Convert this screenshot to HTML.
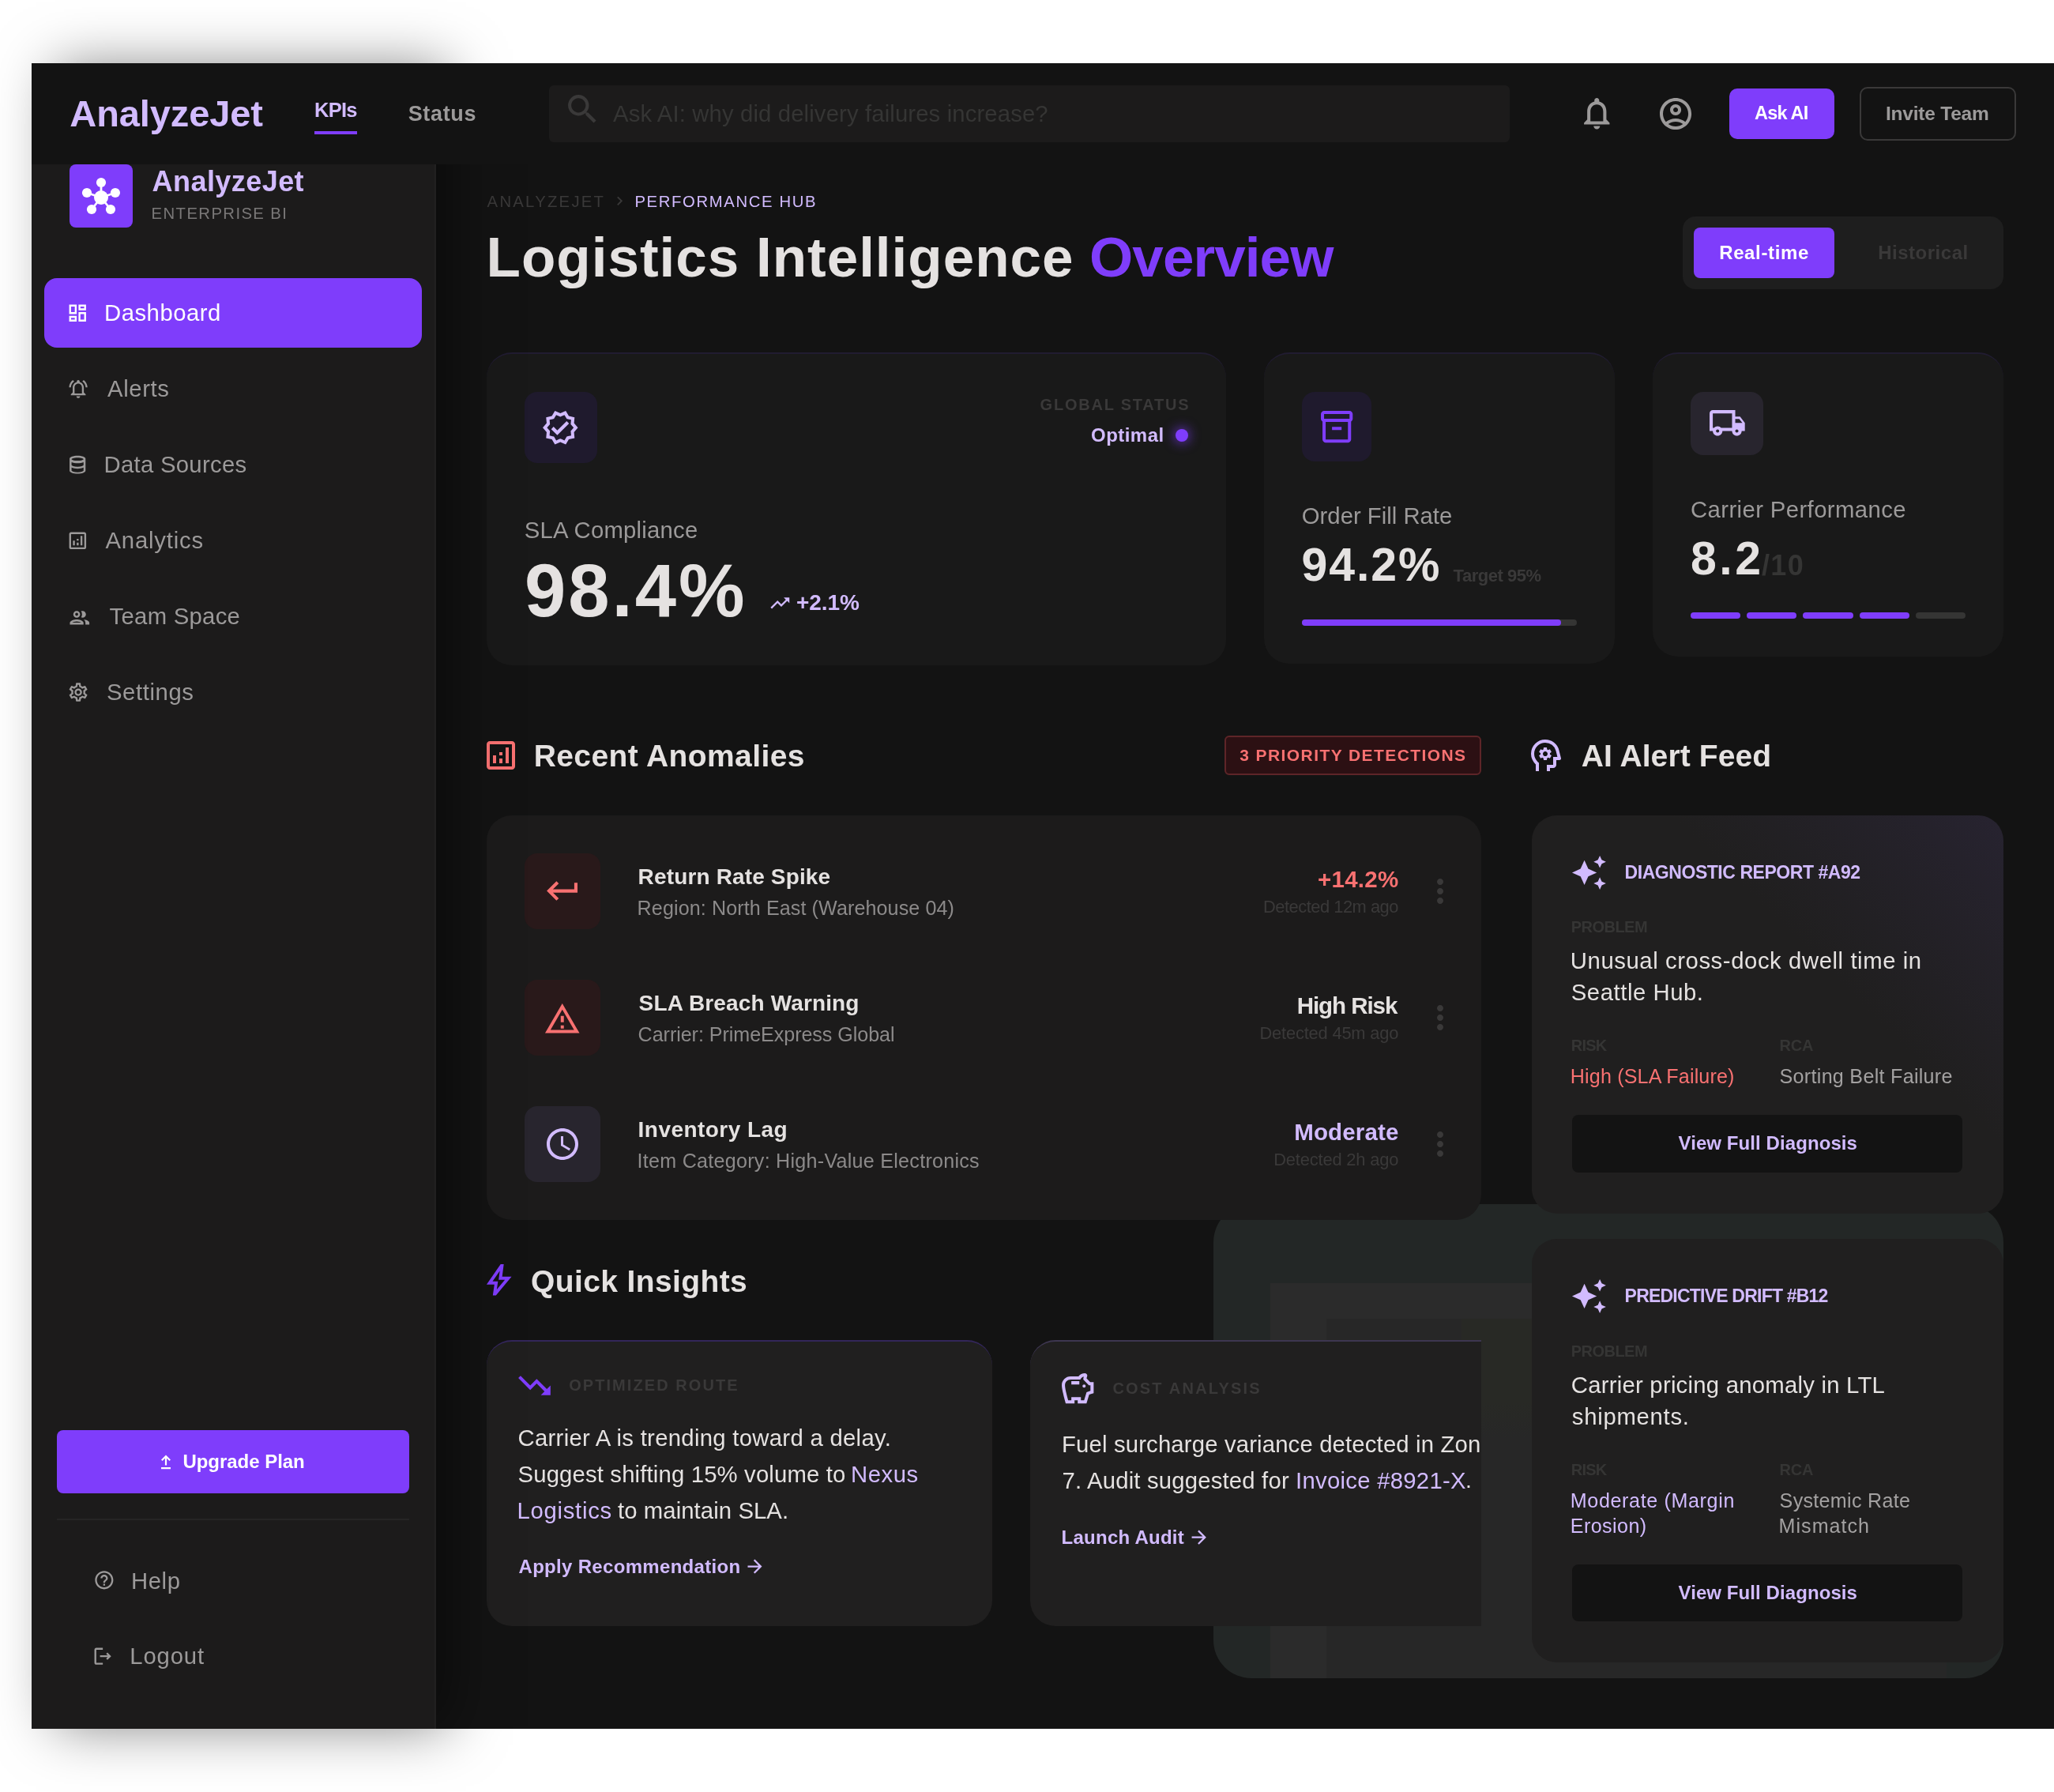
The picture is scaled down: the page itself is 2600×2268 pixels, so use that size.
<!DOCTYPE html><html><head><meta charset="utf-8"><title>AnalyzeJet</title><style>html,body{margin:0;padding:0;background:#fff}body{width:2600px;height:2268px;position:relative;overflow:hidden;font-family:"Liberation Sans",sans-serif}div,span,svg{position:absolute;display:block}span{white-space:nowrap}</style></head><body><div id="w" style="left:0;top:0;width:2600px;height:2268px;will-change:transform">
<div style="left:40px;top:80px;width:2560px;height:2108px;background:#131313;border-radius:0px;"></div>
<div style="left:1536px;top:1524px;width:1000px;height:600px;background:#232726;border-radius:48px;overflow:hidden"><div style="left:72px;top:100px;width:856px;height:500px;background:#2b2b2b"></div><div style="left:143px;top:145px;width:785px;height:455px;background:#272727"></div><div style="left:314px;top:145px;width:614px;height:150px;background:linear-gradient(#282925 70%,#272727)"></div></div>
<span style="left:616.60px;top:244.81px;font-size:20.3px;line-height:20.3px;font-weight:400;color:#3a3939;letter-spacing:2.268px;">ANALYZEJET</span>
<svg style="left:772.68px;top:243.16px" width="22.69" height="22.69" viewBox="0 0 24 24"><path fill="#3a3939" d="M10 6L8.590 7.410 13.170 12l-4.580 4.590L10 18l6-6z"/></svg>
<span style="left:803.40px;top:244.81px;font-size:20.3px;line-height:20.3px;font-weight:400;color:#d2bbff;letter-spacing:1.637px;">PERFORMANCE HUB</span>
<span style="left:615.60px;top:289.88px;font-size:71px;line-height:71px;font-weight:700;color:#e5e2e1;letter-spacing:0.995px;">Logistics Intelligence</span>
<span style="left:1379.00px;top:289.88px;font-size:71px;line-height:71px;font-weight:700;color:#7f3dfb;letter-spacing:-0.904px;">Overview</span>
<div style="left:2130px;top:274px;width:406px;height:92px;background:#1e1e1e;border-radius:16px;"></div>
<div style="left:2144px;top:288px;width:178px;height:64px;background:#7f3dfb;border-radius:8px;"></div>
<span style="left:2176.20px;top:307.58px;font-size:24px;line-height:24px;font-weight:700;color:#ffffff;letter-spacing:0.627px;">Real-time</span>
<span style="left:2377.20px;top:307.58px;font-size:24px;line-height:24px;font-weight:700;color:#3a3939;letter-spacing:0.511px;">Historical</span>
<div style="left:616px;top:446px;width:936px;height:396px;background:#191919;border-radius:32px;border-top:2px solid #211c31;box-sizing:border-box;"></div>
<div style="left:1600px;top:446px;width:444px;height:394px;background:#191919;border-radius:32px;border-top:2px solid #211c31;box-sizing:border-box;"></div>
<div style="left:2092px;top:446px;width:444px;height:385px;background:#191919;border-radius:32px;border-top:2px solid #211c31;box-sizing:border-box;"></div>
<div style="left:664px;top:496px;width:92px;height:90px;background:#1f1a2d;border-radius:16px;"></div>
<svg style="left:685.46px;top:516.96px" width="48.58" height="48.58" viewBox="0 0 24 24"><path fill="#d2bbff" d="M23 11.99l-2.44-2.79.34-3.69-3.61-.82-1.89-3.2L12 2.96 8.6 1.5 6.71 4.69 3.1 5.5l.34 3.7L1 11.99l2.44 2.79-.34 3.7 3.61.82L8.6 22.5l3.4-1.47 3.4 1.46 1.89-3.19 3.61-.82-.34-3.69 2.44-2.8zm-3.95 1.48l-.56.65.08.85.18 1.95-1.9.43-.84.19-.44.74-.99 1.68-1.78-.77-.8-.34-.79.34-1.78.77-.99-1.67-.44-.74-.84-.19-1.9-.43.18-1.96.08-.85-.56-.65-1.29-1.47 1.29-1.48.56-.65-.09-.86-.18-1.94 1.9-.43.84-.19.44-.74.99-1.68 1.78.77.8.34.79-.34 1.78-.77.99 1.68.44.74.84.19 1.9.43-.18 1.95-.08.85.56.65 1.29 1.47-1.28 1.48zM10.09 13.75l-2.32-2.33-1.48 1.49 3.8 3.81 7.34-7.36-1.48-1.49z"/></svg>
<span style="left:1316.60px;top:501.87px;font-size:20px;line-height:20px;font-weight:700;color:#3a3939;letter-spacing:1.777px;">GLOBAL STATUS</span>
<span style="left:1381.00px;top:539.38px;font-size:24px;line-height:24px;font-weight:700;color:#d2bbff;letter-spacing:0.471px;">Optimal</span>
<div style="left:1488px;top:543px;width:16px;height:16px;border-radius:50%;background:#7f3dfb;box-shadow:0 0 16px #7f3dfb"></div>
<span style="left:663.80px;top:655.89px;font-size:29.3px;line-height:29.3px;font-weight:400;color:#9c9a9a;letter-spacing:0.222px;">SLA Compliance</span>
<span style="left:664.00px;top:700.71px;font-size:94px;line-height:94px;font-weight:700;color:#e5e2e1;letter-spacing:3.012px;">98.4%</span>
<svg style="left:972.89px;top:748.74px" width="28.62" height="28.62" viewBox="0 0 24 24"><path fill="#d2bbff" d="M16 6l2.29 2.29-4.88 4.88-4-4L2 16.59 3.41 18l6-6 4 4 6.3-6.29L22 12V6z"/></svg>
<span style="left:1008.00px;top:749.09px;font-size:28px;line-height:28px;font-weight:700;color:#d2bbff;letter-spacing:-0.069px;">+2.1%</span>
<div style="left:1648px;top:496px;width:88px;height:88px;background:#1f1a2d;border-radius:16px;"></div>
<svg style="left:1667.85px;top:515.60px" width="48.30" height="48.30" viewBox="0 0 24 24"><path fill="#7f3dfb" d="M20 2H4c-1 0-2 .9-2 2v3.010c0 .720.430 1.340 1 1.690V20c0 1.100 1.100 2 2 2h14c.900 0 2-.900 2-2V8.700c.570-.350 1-.970 1-1.690V4c0-1.100-1-2-2-2zm-1 18H5V9h14v11zm1-13H4V4h16v3zM9 12h6v2H9z"/></svg>
<span style="left:1647.80px;top:637.89px;font-size:29.3px;line-height:29.3px;font-weight:400;color:#9c9a9a;letter-spacing:0.001px;">Order Fill Rate</span>
<span style="left:1647.50px;top:686.34px;font-size:59px;line-height:59px;font-weight:700;color:#e5e2e1;letter-spacing:1.917px;">94.2%</span>
<span style="left:1839.60px;top:718.37px;font-size:22px;line-height:22px;font-weight:700;color:#3a3939;letter-spacing:-0.487px;">Target 95%</span>
<div style="left:1648px;top:784px;width:348px;height:8px;background:#353534;border-radius:4px;"></div>
<div style="left:1648px;top:784px;width:328px;height:8px;background:#7f3dfb;border-radius:4px;"></div>
<div style="left:2140px;top:496px;width:92px;height:80px;background:#28252e;border-radius:16px;"></div>
<svg style="left:2161.83px;top:511.48px" width="48.74" height="48.74" viewBox="0 0 24 24"><path fill="#d2bbff" d="M20 8h-3V4H3c-1.100 0-2 .900-2 2v11h2c0 1.660 1.340 3 3 3s3-1.340 3-3h6c0 1.660 1.340 3 3 3s3-1.340 3-3h2v-5l-3-4zm-.500 1.500l1.960 2.500H17V9.500h2.500zM6 18c-.550 0-1-.450-1-1s.450-1 1-1 1 .450 1 1-.450 1-1 1zm2.220-3c-.550-.610-1.330-1-2.220-1s-1.670.390-2.220 1H3V6h12v9H8.220zM18 18c-.550 0-1-.450-1-1s.450-1 1-1 1 .450 1 1-.450 1-1 1z"/></svg>
<span style="left:2140.00px;top:629.69px;font-size:29.3px;line-height:29.3px;font-weight:400;color:#9c9a9a;letter-spacing:0.396px;">Carrier Performance</span>
<span style="left:2140.00px;top:677.84px;font-size:59px;line-height:59px;font-weight:700;color:#e5e2e1;letter-spacing:3.497px;">8.2</span>
<span style="left:2230.00px;top:697.92px;font-size:36px;line-height:36px;font-weight:700;color:#353534;letter-spacing:1.338px;">/10</span>
<div style="left:2140.0px;top:775px;width:63.19999999999982px;height:8px;background:#7f3dfb;border-radius:4px;"></div>
<div style="left:2211.2px;top:775px;width:63.20000000000027px;height:8px;background:#7f3dfb;border-radius:4px;"></div>
<div style="left:2282.4px;top:775px;width:63.19999999999982px;height:8px;background:#7f3dfb;border-radius:4px;"></div>
<div style="left:2353.6px;top:775px;width:63.20000000000027px;height:8px;background:#7f3dfb;border-radius:4px;"></div>
<div style="left:2424.8px;top:775px;width:63.19999999999982px;height:8px;background:#353534;border-radius:4px;"></div>
<svg style="left:610.00px;top:932.00px" width="48.00" height="48.00" viewBox="0 0 24 24"><path fill="#f87171" d="M19 3H5c-1.1 0-2 .9-2 2v14c0 1.1.9 2 2 2h14c1.1 0 2-.9 2-2V5c0-1.1-.9-2-2-2zm0 16H5V5h14v14zM7 12h2v5H7zm8-5h2v10h-2zm-4 7h2v3h-2zm0-4h2v2h-2z"/></svg>
<span style="left:675.70px;top:936.88px;font-size:39px;line-height:39px;font-weight:700;color:#e5e2e1;letter-spacing:0.405px;">Recent Anomalies</span>
<div style="left:1550px;top:931px;width:325px;height:50px;background:#2c1013;border:2px solid #5e2528;border-radius:6px;box-sizing:border-box"></div>
<span style="left:1569.20px;top:945.22px;font-size:21px;line-height:21px;font-weight:700;color:#f87171;letter-spacing:1.422px;">3 PRIORITY DETECTIONS</span>
<div style="left:616px;top:1032px;width:1259px;height:512px;background:#1c1b1b;border-radius:32px;"></div>
<div style="left:664px;top:1080px;width:96px;height:96px;background:#29191a;border-radius:16px;"></div>
<svg style="left:687.87px;top:1102.90px" width="49.16" height="49.16" viewBox="0 0 24 24"><path fill="#f87171" d="M19 7v4H5.830l3.580-3.590L8 6l-6 6 6 6 1.410-1.410L5.830 13H21V7z"/></svg>
<span style="left:807.60px;top:1096.29px;font-size:28px;line-height:28px;font-weight:700;color:#e5e2e1;letter-spacing:0.150px;">Return Rate Spike</span>
<span style="left:806.60px;top:1136.75px;font-size:25.1px;line-height:25.1px;font-weight:400;color:#8c8a8a;letter-spacing:0.106px;">Region: North East (Warehouse 04)</span>
<span style="left:1668.00px;top:1098.32px;font-size:29.5px;line-height:29.5px;font-weight:700;color:#f87171;letter-spacing:0.271px;">+14.2%</span>
<span style="left:1598.90px;top:1136.76px;font-size:21.9px;line-height:21.9px;font-weight:400;color:#3a3939;letter-spacing:-0.488px;">Detected 12m ago</span>
<svg style="left:1799.00px;top:1104.00px" width="48" height="48" viewBox="0 0 24 24"><path fill="#3a3939" d="M12 8c1.100 0 2-.900 2-2s-.900-2-2-2-2 .900-2 2 .900 2 2 2zm0 2c-1.100 0-2 .900-2 2s.900 2 2 2 2-.900 2-2-.900-2-2-2zm0 6c-1.100 0-2 .900-2 2s.900 2 2 2 2-.900 2-2-.900-2-2-2z"/></svg>
<div style="left:664px;top:1240px;width:96px;height:96px;background:#29191a;border-radius:16px;"></div>
<svg style="left:688.39px;top:1265.78px" width="47.52" height="47.52" viewBox="0 0 24 24"><path fill="#f87171" d="M12 5.990L19.530 19H4.470L12 5.990M12 2L1 21h22L12 2zm1 14h-2v2h2v-2zm0-6h-2v4h2v-4z"/></svg>
<span style="left:808.60px;top:1256.29px;font-size:28px;line-height:28px;font-weight:700;color:#e5e2e1;letter-spacing:0.145px;">SLA Breach Warning</span>
<span style="left:807.60px;top:1296.75px;font-size:25.1px;line-height:25.1px;font-weight:400;color:#8c8a8a;letter-spacing:-0.049px;">Carrier: PrimeExpress Global</span>
<span style="left:1641.70px;top:1258.32px;font-size:29.5px;line-height:29.5px;font-weight:700;color:#e5e2e1;letter-spacing:-1.043px;">High Risk</span>
<span style="left:1594.40px;top:1296.76px;font-size:21.9px;line-height:21.9px;font-weight:400;color:#3a3939;letter-spacing:-0.188px;">Detected 45m ago</span>
<svg style="left:1799.00px;top:1264.00px" width="48" height="48" viewBox="0 0 24 24"><path fill="#3a3939" d="M12 8c1.100 0 2-.900 2-2s-.900-2-2-2-2 .900-2 2 .900 2 2 2zm0 2c-1.100 0-2 .900-2 2s.900 2 2 2 2-.900 2-2-.900-2-2-2zm0 6c-1.100 0-2 .900-2 2s.900 2 2 2 2-.900 2-2-.900-2-2-2z"/></svg>
<div style="left:664px;top:1400px;width:96px;height:96px;background:#28252e;border-radius:16px;"></div>
<svg style="left:688.00px;top:1424.00px" width="48.00" height="48.00" viewBox="0 0 24 24"><path fill="#d2bbff" d="M11.990 2C6.470 2 2 6.480 2 12s4.470 10 9.990 10C17.520 22 22 17.520 22 12S17.520 2 11.990 2zM12 20c-4.420 0-8-3.580-8-8s3.580-8 8-8 8 3.580 8 8-3.580 8-8 8zm.500-13H11v6l5.250 3.150.750-1.230-4.500-2.670z"/></svg>
<span style="left:807.60px;top:1416.29px;font-size:28px;line-height:28px;font-weight:700;color:#e5e2e1;letter-spacing:0.460px;">Inventory Lag</span>
<span style="left:806.60px;top:1456.75px;font-size:25.1px;line-height:25.1px;font-weight:400;color:#8c8a8a;letter-spacing:0.265px;">Item Category: High-Value Electronics</span>
<span style="left:1638.20px;top:1418.32px;font-size:29.5px;line-height:29.5px;font-weight:700;color:#d2bbff;letter-spacing:0.153px;">Moderate</span>
<span style="left:1612.20px;top:1456.76px;font-size:21.9px;line-height:21.9px;font-weight:400;color:#3a3939;letter-spacing:-0.170px;">Detected 2h ago</span>
<svg style="left:1799.00px;top:1424.00px" width="48" height="48" viewBox="0 0 24 24"><path fill="#3a3939" d="M12 8c1.100 0 2-.900 2-2s-.900-2-2-2-2 .900-2 2 .900 2 2 2zm0 2c-1.100 0-2 .900-2 2s.900 2 2 2 2-.900 2-2-.900-2-2-2zm0 6c-1.100 0-2 .900-2 2s.900 2 2 2 2-.900 2-2-.900-2-2-2z"/></svg>
<svg style="left:1932.3px;top:931.8px" width="48" height="48" viewBox="0 -960 960 960"><path fill="#d2bbff" d="M240-80v-172q-57-52-88.500-121.500T120-520q0-150 105-255t255-105q125 0 221.500 73.500T827-615l52 205q5 19-7 34.500T840-360h-80v120q0 33-23.500 56.500T680-160h-80v80h-80v-160h160v-200h108l-38-155q-23-91-98-148t-172-57q-116 0-198 81t-82 197q0 60 24.500 114t69.500 96l26 24v208h-80Zm200-280h80l6-50q8-3 14.500-7t11.500-9l46 20 40-68-40-30q2-8 2-16t-2-16l40-30-40-68-46 20q-5-5-11.500-9t-14.500-7l-6-50h-80l-6 50q-8 3-14.500 7t-11.500 9l-46-20-40 68 40 30q-2 8-2 16t2 16l-40 30 40 68 46-20q5 5 11.500 9t14.500 7l6 50Zm40-100q-25 0-42.500-17.500T420-520q0-25 17.500-42.500T480-580q25 0 42.500 17.500T540-520q0 25-17.500 42.500T480-460Z"/></svg>
<span style="left:2001.70px;top:936.98px;font-size:39px;line-height:39px;font-weight:700;color:#e5e2e1;letter-spacing:0.106px;">AI Alert Feed</span>
<div style="left:1939px;top:1032px;width:597px;height:504px;border-radius:32px;background:linear-gradient(225deg,#272330 0%,#201f1f 38%)"></div>
<div style="left:1939px;top:1568px;width:597px;height:536px;background:#201f1f;border-radius:32px;"></div>
<svg style="left:1987.67px;top:1080.62px" width="46.85" height="46.85" viewBox="0 0 24 24"><path fill="#d2bbff" d="M19 9l1.25-2.75L23 5l-2.75-1.25L19 1l-1.25 2.75L15 5l2.75 1.250L19 9zm-7.500.500L9 4 6.500 9.500 1 12l5.500 2.500L9 20l2.500-5.500L17 12l-5.500-2.500zM19 15l-1.250 2.750L15 19l2.750 1.250L19 23l1.250-2.750L23 19l-2.750-1.250L19 15z"/></svg>
<span style="left:2056.60px;top:1092.53px;font-size:23px;line-height:23px;font-weight:700;color:#d2bbff;letter-spacing:-0.453px;">DIAGNOSTIC REPORT #A92</span>
<span style="left:1988.80px;top:1163.27px;font-size:20px;line-height:20px;font-weight:700;color:#353534;letter-spacing:-0.540px;">PROBLEM</span>
<span style="left:1987.80px;top:1201.39px;font-size:29.3px;line-height:29.3px;font-weight:400;color:#e5e2e1;letter-spacing:0.571px;">Unusual cross-dock dwell time in</span>
<span style="left:1988.80px;top:1241.39px;font-size:29.3px;line-height:29.3px;font-weight:400;color:#e5e2e1;letter-spacing:0.537px;">Seattle Hub.</span>
<span style="left:1988.80px;top:1313.37px;font-size:20px;line-height:20px;font-weight:700;color:#353534;letter-spacing:-0.780px;">RISK</span>
<span style="left:2252.60px;top:1313.37px;font-size:20px;line-height:20px;font-weight:700;color:#353534;letter-spacing:-0.193px;">RCA</span>
<span style="left:1987.80px;top:1349.95px;font-size:25.1px;line-height:25.1px;font-weight:400;color:#f87171;letter-spacing:0.156px;">High (SLA Failure)</span>
<span style="left:2252.60px;top:1349.95px;font-size:25.1px;line-height:25.1px;font-weight:400;color:#a3a1a1;letter-spacing:0.287px;">Sorting Belt Failure</span>
<div style="left:1990px;top:1411.4px;width:494px;height:72.39999999999986px;background:#131313;border-radius:8px;"></div>
<span style="left:2124.50px;top:1435.28px;font-size:24px;line-height:24px;font-weight:700;color:#d2bbff;letter-spacing:0.084px;">View Full Diagnosis</span>
<svg style="left:1987.67px;top:1617.22px" width="46.85" height="46.85" viewBox="0 0 24 24"><path fill="#d2bbff" d="M19 9l1.25-2.75L23 5l-2.75-1.25L19 1l-1.25 2.75L15 5l2.75 1.250L19 9zm-7.500.500L9 4 6.500 9.500 1 12l5.500 2.500L9 20l2.500-5.500L17 12l-5.500-2.500zM19 15l-1.250 2.750L15 19l2.750 1.250L19 23l1.250-2.750L23 19l-2.750-1.250L19 15z"/></svg>
<span style="left:2056.60px;top:1629.13px;font-size:23px;line-height:23px;font-weight:700;color:#d2bbff;letter-spacing:-0.785px;">PREDICTIVE DRIFT #B12</span>
<span style="left:1988.80px;top:1699.87px;font-size:20px;line-height:20px;font-weight:700;color:#353534;letter-spacing:-0.540px;">PROBLEM</span>
<span style="left:1988.80px;top:1737.99px;font-size:29.3px;line-height:29.3px;font-weight:400;color:#e5e2e1;letter-spacing:0.237px;">Carrier pricing anomaly in LTL</span>
<span style="left:1989.80px;top:1777.99px;font-size:29.3px;line-height:29.3px;font-weight:400;color:#e5e2e1;letter-spacing:0.720px;">shipments.</span>
<span style="left:1988.80px;top:1849.97px;font-size:20px;line-height:20px;font-weight:700;color:#353534;letter-spacing:-0.780px;">RISK</span>
<span style="left:2252.60px;top:1849.97px;font-size:20px;line-height:20px;font-weight:700;color:#353534;letter-spacing:-0.193px;">RCA</span>
<span style="left:1987.80px;top:1886.55px;font-size:25.1px;line-height:25.1px;font-weight:400;color:#d2bbff;letter-spacing:0.634px;">Moderate (Margin</span>
<span style="left:1987.80px;top:1918.55px;font-size:25.1px;line-height:25.1px;font-weight:400;color:#d2bbff;letter-spacing:0.417px;">Erosion)</span>
<span style="left:2252.60px;top:1886.55px;font-size:25.1px;line-height:25.1px;font-weight:400;color:#a3a1a1;letter-spacing:0.300px;">Systemic Rate</span>
<span style="left:2251.60px;top:1918.55px;font-size:25.1px;line-height:25.1px;font-weight:400;color:#a3a1a1;letter-spacing:1.014px;">Mismatch</span>
<div style="left:1990px;top:1980.0px;width:494px;height:72.40000000000009px;background:#131313;border-radius:8px;"></div>
<span style="left:2124.50px;top:2003.88px;font-size:24px;line-height:24px;font-weight:700;color:#d2bbff;letter-spacing:0.084px;">View Full Diagnosis</span>
<svg style="left:608.31px;top:1596.26px" width="47.48" height="47.48" viewBox="0 0 24 24"><path fill="#7f3dfb" d="M10.550 18.200L15.725 12h-4l.725-5.675L7.825 13H11.300zM8 22l1-7H4l9-13h2l-1 8h6L10 22z"/></svg>
<span style="left:672.00px;top:1601.68px;font-size:39px;line-height:39px;font-weight:700;color:#e5e2e1;letter-spacing:0.383px;">Quick Insights</span>
<div style="left:616px;top:1696px;width:640px;height:362px;background:#201f1f;border-radius:32px;border-top:2px solid #33265a;box-sizing:border-box"></div>
<div style="left:1304px;top:1696px;width:571px;height:362px;background:#201f1f;border-radius:32px 0 0 32px;border-top:2px solid #3d3650;box-sizing:border-box"></div>
<svg style="left:652.39px;top:1728.79px" width="48.92" height="48.92" viewBox="0 0 24 24"><path fill="#7f3dfb" d="M16 18l2.290-2.290-4.880-4.880-4 4L2 7.410 3.410 6l6 6 4-4 6.300 6.290L22 12v6z"/></svg>
<span style="left:720.20px;top:1743.37px;font-size:20px;line-height:20px;font-weight:700;color:#3a3939;letter-spacing:2.064px;">OPTIMIZED ROUTE</span>
<span style="left:655.50px;top:1804.79px;font-size:29.3px;line-height:29.3px;font-weight:400;color:#e5e2e1;letter-spacing:0.291px;">Carrier A is trending toward a delay.</span>
<span style="left:655.50px;top:1850.79px;font-size:29.3px;line-height:29.3px;font-weight:400;color:#e5e2e1;letter-spacing:0.152px;">Suggest shifting 15% volume to</span>
<span style="left:1077.00px;top:1850.79px;font-size:29.3px;line-height:29.3px;font-weight:400;color:#d2bbff;letter-spacing:0.527px;">Nexus</span>
<span style="left:654.50px;top:1896.79px;font-size:29.3px;line-height:29.3px;font-weight:400;color:#d2bbff;letter-spacing:0.708px;">Logistics</span>
<span style="left:782.00px;top:1896.79px;font-size:29.3px;line-height:29.3px;font-weight:400;color:#e5e2e1;letter-spacing:0.078px;">to maintain SLA.</span>
<span style="left:656.50px;top:1971.28px;font-size:24px;line-height:24px;font-weight:700;color:#d2bbff;letter-spacing:0.314px;">Apply Recommendation</span>
<svg style="left:941.50px;top:1968.50px" width="27.00" height="27.00" viewBox="0 0 24 24"><path fill="#d2bbff" d="M12 4l-1.410 1.410L16.170 11H4v2h12.170l-5.580 5.590L12 20l8-8z"/></svg>
<svg style="left:1340.14px;top:1733.80px" width="48.42" height="48.42" viewBox="0 0 24 24"><path fill="#d2bbff" d="M15 10c0-.550.450-1 1-1s1 .450 1 1-.450 1-1 1-1-.450-1-1zM8 9h5V7H8v2zm14-1.500v6.970l-2.820.940L17.500 21H12v-2h-2v2H4.500S2 12.540 2 9.500 4.460 4 7.500 4h5c.910-1.210 2.360-2 4-2 .830 0 1.500.670 1.500 1.500 0 .210-.040.400-.120.580-.140.340-.260.730-.320 1.150l2.270 2.270H22zm-2 2h-1L15.500 6c0-.650.090-1.290.260-1.910C14.790 4.340 14 5.060 13.670 6H7.500C5.570 6 4 7.570 4 9.500c0 1.880 1.220 6.650 2.010 9.500H8v-2h6v2h2.010l1.550-5.150 2.440-.820V9.500z"/></svg>
<span style="left:1408.40px;top:1747.27px;font-size:20px;line-height:20px;font-weight:700;color:#3a3939;letter-spacing:2.212px;">COST ANALYSIS</span>
<div style="left:1304px;top:1696px;width:571px;height:362px;overflow:hidden;background:none">
<span style="left:40.00px;top:116.69px;font-size:29.3px;line-height:29.3px;font-weight:400;color:#e5e2e1;letter-spacing:0.156px;">Fuel surcharge variance detected in Zon</span>
</div>
<span style="left:1344.50px;top:1858.69px;font-size:29.3px;line-height:29.3px;font-weight:400;color:#e5e2e1;letter-spacing:0.178px;">7. Audit suggested for</span>
<span style="left:1640.00px;top:1858.69px;font-size:29.3px;line-height:29.3px;font-weight:400;color:#d2bbff;letter-spacing:0.272px;">Invoice #8921-X</span>
<span style="left:1855.00px;top:1859.45px;font-size:28.4px;line-height:28.4px;font-weight:400;color:#e5e2e1;letter-spacing:0.000px;">.</span>
<span style="left:1343.60px;top:1934.48px;font-size:24px;line-height:24px;font-weight:700;color:#d2bbff;letter-spacing:0.243px;">Launch Audit</span>
<svg style="left:1504.43px;top:1931.62px" width="27.45" height="27.45" viewBox="0 0 24 24"><path fill="#d2bbff" d="M12 4l-1.410 1.410L16.170 11H4v2h12.170l-5.580 5.590L12 20l8-8z"/></svg>
<div style="left:56px;top:86px;width:496px;height:2098px;box-shadow:14px 0px 68px rgba(0,0,0,.5)"></div>
<div style="left:40px;top:80px;width:512px;height:2108px;background:#1c1b1b;border-right:2px solid #212020;box-sizing:border-box"></div>
<div style="left:88px;top:208px;width:80px;height:80px;background:#7f3dfb;border-radius:8px;"></div>
<svg style="left:88px;top:208px" width="80" height="80" viewBox="0 0 80 80" fill="#fff" stroke="#fff" stroke-width="2.8"><g><line x1="40" y1="42" x2="40" y2="23"/><line x1="40" y1="42" x2="22" y2="36"/><line x1="40" y1="42" x2="57.9" y2="36"/><line x1="40" y1="42" x2="28" y2="57"/><line x1="40" y1="42" x2="52" y2="57"/></g><g stroke="none"><circle cx="40" cy="42" r="9"/><circle cx="40" cy="23" r="6.1"/><circle cx="22" cy="36" r="6.1"/><circle cx="57.9" cy="36" r="6.1"/><circle cx="28" cy="57" r="6.1"/><circle cx="52" cy="57" r="6.1"/></g></svg>
<span style="left:192.60px;top:212.32px;font-size:36px;line-height:36px;font-weight:700;color:#d2bbff;letter-spacing:0.434px;">AnalyzeJet</span>
<span style="left:191.60px;top:260.41px;font-size:20.3px;line-height:20.3px;font-weight:400;color:#7a7878;letter-spacing:1.411px;">ENTERPRISE BI</span>
<div style="left:56px;top:352px;width:478px;height:88px;background:#7f3dfb;border-radius:16px;"></div>
<svg style="left:84.27px;top:381.92px" width="28.47" height="28.47" viewBox="0 0 24 24"><path fill="#ffffff" d="M19 5v2h-4V5h4M9 5v6H5V5h4m10 8v6h-4v-6h4M9 17v2H5v-2h4M21 3h-8v6h8V3zM11 3H3v10h8V3zm10 8h-8v10h8V11zm-10 4H3v6h8v-6z"/></svg>
<span style="left:132.00px;top:380.59px;font-size:29.3px;line-height:29.3px;font-weight:400;color:#ffffff;letter-spacing:0.496px;">Dashboard</span>
<svg style="left:85.28px;top:477.73px" width="28.14" height="28.14" viewBox="0 0 24 24"><path fill="#9c9a9a" d="M12 22c1.1 0 2-.9 2-2h-4c0 1.1.9 2 2 2zm6-6v-5c0-3.07-1.63-5.64-4.5-6.32V4c0-.83-.67-1.5-1.5-1.5s-1.5.67-1.5 1.5v.68C7.64 5.36 6 7.92 6 11v5l-2 2v1h16v-1l-2-2zm-2 1H8v-6c0-2.48 1.51-4.5 4-4.5s4 2.02 4 4.5v6zM7.58 4.08L6.15 2.65C3.75 4.48 2.17 7.3 2.03 10.5h2a8.445 8.445 0 0 1 3.55-6.42zm12.39 6.42h2c-.15-3.2-1.73-6.02-4.12-7.85l-1.42 1.43a8.495 8.495 0 0 1 3.54 6.42z"/></svg>
<span style="left:136.00px;top:476.59px;font-size:29.3px;line-height:29.3px;font-weight:400;color:#9c9a9a;letter-spacing:0.612px;">Alerts</span>
<svg style="left:82.83px;top:573.33px" width="30.33" height="30.33" viewBox="0 0 24 24"><path fill="#9c9a9a" d="M12 3C7.58 3 4 4.34 4 6v12c0 1.66 3.58 3 8 3s8-1.34 8-3V6c0-1.66-3.58-3-8-3zm0 2c3.87 0 6 1.1 6 1.5S15.87 8 12 8 6 6.9 6 6.5 8.13 5 12 5zm6 13c-.3.5-2.4 1.5-6 1.5S6.3 18.5 6 18v-3.1c1.5.7 3.6 1.1 6 1.1s4.500-.4 6-1.1V18zm0-5.5c-.3.5-2.4 1.500-6 1.500S6.3 13 6 12.500V9.400c1.500.7 3.600 1.100 6 1.100s4.500-.4 6-1.100v3.100z"/></svg>
<span style="left:131.50px;top:572.59px;font-size:29.3px;line-height:29.3px;font-weight:400;color:#9c9a9a;letter-spacing:0.286px;">Data Sources</span>
<svg style="left:84.17px;top:669.67px" width="28.67" height="28.67" viewBox="0 0 24 24"><path fill="#9c9a9a" d="M19 3H5c-1.1 0-2 .9-2 2v14c0 1.1.9 2 2 2h14c1.1 0 2-.9 2-2V5c0-1.1-.9-2-2-2zm0 16H5V5h14v14zM7 12h2v5H7zm8-5h2v10h-2zm-4 7h2v3h-2zm0-4h2v2h-2z"/></svg>
<span style="left:133.50px;top:668.59px;font-size:29.3px;line-height:29.3px;font-weight:400;color:#9c9a9a;letter-spacing:0.802px;">Analytics</span>
<svg style="left:85.71px;top:766.71px" width="29.57" height="29.57" viewBox="0 0 24 24"><path fill="#9c9a9a" d="M9 13.75c-2.34 0-7 1.17-7 3.5V19h14v-1.750c0-2.330-4.660-3.500-7-3.500zM4.340 17c.840-.580 2.870-1.250 4.660-1.250s3.820.670 4.660 1.250H4.340zM9 12c1.930 0 3.500-1.570 3.500-3.500S10.930 5 9 5 5.500 6.570 5.500 8.500 7.070 12 9 12zm0-5c.830 0 1.500.670 1.500 1.500S9.830 10 9 10s-1.500-.670-1.500-1.500S8.170 7 9 7zm7.040 6.810c1.160.840 1.960 1.960 1.960 3.440V19h4v-1.750c0-2.020-3.500-3.170-5.960-3.440zM15 12c1.930 0 3.500-1.570 3.500-3.500S16.930 5 15 5c-.540 0-1.040.130-1.500.350.630.890 1 1.980 1 3.150s-.370 2.260-1 3.150c.460.220.960.350 1.500.350z"/></svg>
<span style="left:138.60px;top:764.59px;font-size:29.3px;line-height:29.3px;font-weight:400;color:#9c9a9a;letter-spacing:0.272px;">Team Space</span>
<svg style="left:85.40px;top:861.90px" width="28.20" height="28.20" viewBox="0 0 24 24"><path fill="#9c9a9a" d="M19.43 12.98c.04-.32.07-.64.07-.98 0-.34-.03-.66-.07-.98l2.11-1.65c.19-.15.24-.42.12-.64l-2-3.46a.5.5 0 0 0-.61-.22l-2.49 1c-.52-.4-1.08-.73-1.69-.98l-.38-2.65A.488.488 0 0 0 14 2h-4c-.25 0-.46.18-.49.42l-.38 2.65c-.61.25-1.17.59-1.69.98l-2.49-1a.566.566 0 0 0-.18-.03c-.17 0-.34.09-.43.25l-2 3.46c-.13.22-.07.49.12.64l2.11 1.65c-.04.32-.07.65-.07.98 0 .33.03.66.07.98l-2.11 1.65c-.19.15-.24.42-.12.64l2 3.46a.5.5 0 0 0 .61.22l2.49-1c.52.4 1.08.73 1.69.98l.38 2.65c.03.24.24.42.49.42h4c.25 0 .46-.18.49-.42l.38-2.65c.61-.25 1.17-.59 1.69-.98l2.49 1c.06.02.12.03.18.03.17 0 .34-.09.43-.25l2-3.46c.12-.22.07-.49-.12-.64l-2.11-1.65zm-1.98-1.71c.04.31.05.52.05.73 0 .21-.02.43-.05.73l-.14 1.13.89.7 1.08.84-.7 1.21-1.27-.51-1.04-.42-.9.68c-.43.32-.84.56-1.25.73l-1.06.43-.16 1.13-.2 1.35h-1.4l-.19-1.35-.16-1.13-1.06-.43c-.43-.18-.83-.41-1.23-.71l-.91-.7-1.06.43-1.27.51-.7-1.21 1.08-.84.89-.7-.14-1.13c-.03-.31-.05-.54-.05-.74s.02-.43.05-.73l.14-1.13-.89-.7-1.08-.84.7-1.21 1.27.51 1.04.42.9-.68c.43-.32.84-.56 1.25-.73l1.06-.43.16-1.13.2-1.35h1.39l.19 1.35.16 1.13 1.06.43c.43.18.83.41 1.23.71l.91.7 1.06-.43 1.27-.51.7 1.21-1.07.85-.89.7.14 1.13zM12 8c-2.21 0-4 1.79-4 4s1.79 4 4 4 4-1.79 4-4-1.79-4-4-4zm0 6c-1.1 0-2-.9-2-2s.9-2 2-2 2 .9 2 2-.9 2-2 2z"/></svg>
<span style="left:135.00px;top:860.59px;font-size:29.3px;line-height:29.3px;font-weight:400;color:#9c9a9a;letter-spacing:0.584px;">Settings</span>
<div style="left:72px;top:1810px;width:446px;height:80px;background:#7f3dfb;border-radius:8px;"></div>
<svg style="left:200px;top:1838px" width="24" height="24" viewBox="0 0 24 24" fill="none" stroke="#fff" stroke-width="2.2"><path d="M4 20.2h12M10 16.5V5.500M4.800 10.200L10 5l5.200 5.200"/></svg>
<span style="left:231.40px;top:1838.18px;font-size:24px;line-height:24px;font-weight:700;color:#ffffff;letter-spacing:-0.031px;">Upgrade Plan</span>
<div style="left:72px;top:1922px;width:446px;height:2px;background:#262525;border-radius:0px;"></div>
<svg style="left:117.64px;top:1986.44px" width="27.72" height="27.72" viewBox="0 0 24 24"><path fill="#9c9a9a" d="M11 18h2v-2h-2v2zm1-16C6.48 2 2 6.48 2 12s4.48 10 10 10 10-4.48 10-10S17.52 2 12 2zm0 18c-4.41 0-8-3.59-8-8s3.59-8 8-8 8 3.59 8 8-3.59 8-8 8zm0-14c-2.21 0-4 1.79-4 4h2c0-1.1.9-2 2-2s2 .9 2 2c0 2-3 1.75-3 5h2c0-2.25 3-2.5 3-5 0-2.21-1.79-4-4-4z"/></svg>
<span style="left:166.00px;top:1985.99px;font-size:29.3px;line-height:29.3px;font-weight:400;color:#9c9a9a;letter-spacing:0.580px;">Help</span>
<svg style="left:116.27px;top:2081.67px" width="28.27" height="28.27" viewBox="0 0 24 24"><path fill="#9c9a9a" d="M17 8l-1.41 1.41L17.17 11H9v2h8.17l-1.58 1.58L17 16l4-4-4-4zM5 5h7V3H5c-1.1 0-2 .9-2 2v14c0 1.1.9 2 2 2h7v-2H5V5z"/></svg>
<span style="left:164.30px;top:2081.49px;font-size:29.3px;line-height:29.3px;font-weight:400;color:#9c9a9a;letter-spacing:0.846px;">Logout</span>
<div style="left:40px;top:80px;width:2560px;height:128px;background:#131313;border-radius:0px;"></div>
<span style="left:88.30px;top:120.21px;font-size:47px;line-height:47px;font-weight:700;color:#d2bbff;letter-spacing:-0.101px;">AnalyzeJet</span>
<span style="left:398.00px;top:126.81px;font-size:25.5px;line-height:25.5px;font-weight:700;color:#d2bbff;letter-spacing:-0.736px;">KPIs</span>
<div style="left:398.4px;top:166px;width:53.900000000000034px;height:4px;background:#7f3dfb;border-radius:0px;"></div>
<span style="left:516.70px;top:131.34px;font-size:27px;line-height:27px;font-weight:700;color:#9c9a9a;letter-spacing:0.660px;">Status</span>
<div style="left:695px;top:108px;width:1216px;height:72px;background:#1c1b1b;border-radius:6px;"></div>
<svg style="left:713.16px;top:113.66px" width="48.71" height="48.71" viewBox="0 0 24 24"><path fill="#3a3939" d="M15.5 14h-.79l-.28-.27A6.471 6.471 0 0 0 16 9.5 6.5 6.5 0 1 0 9.5 16c1.61 0 3.09-.59 4.23-1.57l.27.28v.79l5 4.99L20.49 19l-4.99-5zm-6 0C7.01 14 5 11.99 5 9.5S7.01 5 9.5 5 14 7.01 14 9.5 11.99 14 9.5 14z"/></svg>
<span style="left:776.00px;top:129.19px;font-size:29.3px;line-height:29.3px;font-weight:400;color:#353534;letter-spacing:0.123px;">Ask AI: why did delivery failures increase?</span>
<svg style="left:1996.72px;top:118.77px" width="48.55" height="48.55" viewBox="0 0 24 24"><path fill="#9c9a9a" d="M12 22c1.1 0 2-.9 2-2h-4c0 1.1.9 2 2 2zm6-6v-5c0-3.07-1.63-5.64-4.5-6.32V4c0-.83-.67-1.5-1.5-1.5s-1.5.67-1.5 1.5v.68C7.64 5.36 6 7.92 6 11v5l-2 2v1h16v-1l-2-2zm-2 1H8v-6c0-2.48 1.51-4.5 4-4.5s4 2.02 4 4.5v6z"/></svg>
<svg style="left:2096.94px;top:119.64px" width="48.12" height="48.12" viewBox="0 0 24 24"><path fill="#9c9a9a" d="M12 2C6.48 2 2 6.48 2 12s4.48 10 10 10 10-4.48 10-10S17.52 2 12 2zM7.35 18.5C8.66 17.56 10.26 17 12 17s3.34.56 4.65 1.5c-1.31.94-2.91 1.5-4.65 1.5s-3.34-.56-4.65-1.5zm10.79-1.38C16.45 15.8 14.32 15 12 15s-4.45.8-6.14 2.12C4.7 15.73 4 13.95 4 12c0-4.42 3.58-8 8-8s8 3.58 8 8c0 1.95-.7 3.73-1.86 5.12zM12 6c-1.93 0-3.5 1.57-3.5 3.5S10.07 13 12 13s3.5-1.57 3.5-3.5S13.93 6 12 6zm0 5c-.83 0-1.5-.67-1.5-1.5S11.17 8 12 8s1.5.67 1.5 1.5S12.83 11 12 11z"/></svg>
<div style="left:2189px;top:112px;width:133px;height:64px;background:#7f3dfb;border-radius:10px;"></div>
<span style="left:2221.00px;top:132.40px;font-size:23.5px;line-height:23.5px;font-weight:700;color:#ffffff;letter-spacing:-0.822px;">Ask AI</span>
<div style="left:2354px;top:110px;width:198px;height:68px;border:2px solid #3a3939;border-radius:10px;box-sizing:border-box"></div>
<span style="left:2387.00px;top:131.56px;font-size:24.5px;line-height:24.5px;font-weight:700;color:#9c9a9a;letter-spacing:-0.220px;">Invite Team</span>
</div></body></html>
